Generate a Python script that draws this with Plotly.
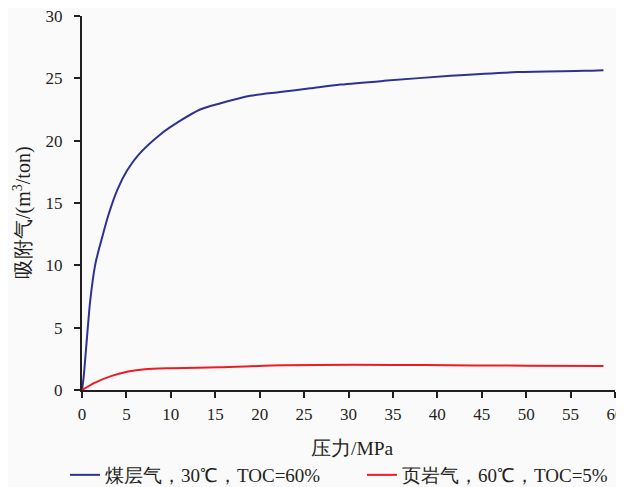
import plotly.graph_objects as go

# Data
pressure_cbm = [0, 0.18, 0.56, 0.93, 1.5, 2.25, 3.0, 3.94, 5.07, 6.4, 8.82, 11.07, 13.3, 15.6,
                18.95, 22.3, 25.7, 29.1, 34.0, 41.5, 49.0, 56.5, 58.7]
ads_cbm = [0, 1.0, 4.2, 7.2, 10.1, 12.2, 14.1, 16.0, 17.6, 18.9, 20.5, 21.6, 22.5, 23.0,
           23.6, 23.9, 24.2, 24.5, 24.8, 25.2, 25.5, 25.6, 25.65]

pressure_shale = [0, 1.47, 3.35, 5.2, 7.1, 10.1, 15.4, 22.7, 30.6, 38.4, 50.2, 58.7]
ads_shale = [0, 0.59, 1.13, 1.48, 1.67, 1.75, 1.82, 1.98, 2.02, 2.0, 1.95, 1.92]

name_cbm = "煤层气，30℃，TOC=60%"
name_shale = "页岩气，60℃，TOC=5%"
x_title = "压力/MPa"
y_title = "吸附气/(m<sup>3</sup>/ton)"
x_ticks = list(range(0, 61, 5))
y_ticks = list(range(0, 31, 5))

FONT = "Liberation Serif"
INK = "#231f20"
OFF = 8  # page offset of the figure inside the window (body margin)

fig = go.Figure()
fig.add_trace(go.Scatter(x=pressure_cbm, y=ads_cbm, mode="lines", name=name_cbm, legend="legend",
                         showlegend=True,
                         line=dict(color="#2e3192", width=2, shape="spline", smoothing=0.8)))
fig.add_trace(go.Scatter(x=pressure_shale, y=ads_shale, mode="lines", name=name_shale, legend="legend2",
                         showlegend=True,
                         line=dict(color="#ed1c24", width=2, shape="spline", smoothing=0.8)))

axis_common = dict(showline=True, linecolor=INK, linewidth=2, ticks="outside",
                   ticklen=6, tickwidth=2, tickcolor=INK, showgrid=False, automargin=False,
                   zeroline=False, ticklabeloverflow="allow",
                   tickfont=dict(family=FONT, size=17, color=INK))

fig.update_xaxes(range=[0, 60], tickvals=x_ticks, ticklabelstandoff=2, **axis_common)
fig.update_yaxes(range=[0, 30], tickvals=y_ticks, ticklabelstandoff=8, **axis_common)

W, H = 616, 479
pl, pr, pt, pb = 82 - OFF, 615 - OFF, 16 - OFF, 390 - OFF
pw, ph = pr - pl, pb - pt

legend_common = dict(orientation="h", xref="container", yref="container", yanchor="middle",
                     xanchor="left", font=dict(family=FONT, size=19, color=INK),
                     bgcolor="rgba(0,0,0,0)", itemwidth=30)

fig.update_layout(
    width=W, height=H,
    showlegend=True,
    margin=dict(l=pl, r=W - pr, t=pt, b=H - pb),
    paper_bgcolor="#fafafa", plot_bgcolor="#fafafa",
    font=dict(family=FONT, color=INK),
    legend=dict(x=(65 - OFF) / W, y=1 - (475 - OFF) / H, **legend_common),
    legend2=dict(x=(362 - OFF) / W, y=1 - (475 - OFF) / H, **legend_common),
    annotations=[
        dict(text=x_title, xref="paper", yref="paper", x=(352 - OFF - pl) / pw, y=-(448 - OFF - pb) / ph,
             xanchor="center", yanchor="middle", showarrow=False,
             font=dict(family=FONT, size=19.5, color=INK)),
        dict(text=y_title, xref="paper", yref="paper", x=-(pl - (22 - OFF)) / pw, y=(pb - (213 - OFF)) / ph,
             xanchor="center", yanchor="middle", showarrow=False, textangle=-90,
             font=dict(family=FONT, size=20, color=INK)),
    ],
)

fig.write_html("out.html")
